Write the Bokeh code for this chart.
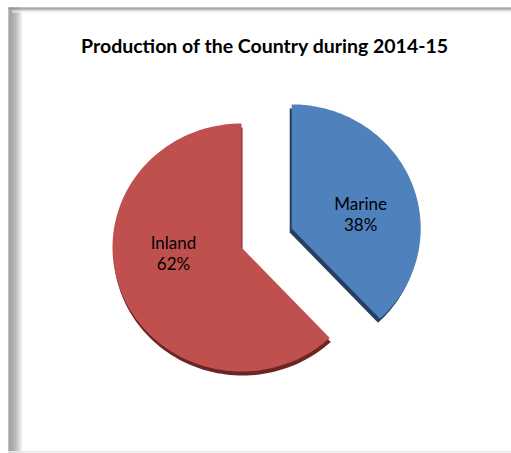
import numpy as np
from bokeh.plotting import figure
from bokeh.models import Range1d, ColumnDataSource
from bokeh.core.properties import value
from bokeh.embed import file_html
from bokeh.resources import INLINE

# ---- data ----
categories = ["Marine", "Inland"]
values = [38, 62]
colors = ["#4f81bd", "#c0504d"]
side_colors = ["#243f60", "#6b2523"]
title_text = "Production of the Country during 2014-15"

# ---- layout constants ----
W, H = 511, 453
cx, cy = 241, 206          # pie centre (data px)
rx, ry = 129, 124          # radii
explode = [54, 0]          # explode distance per slice
side_shift = [(-2, -4), (1, -4)]
label_r = 0.55
label_adj = [(3, -11), (-2, 20)]
fx0, ftop, fbot = 8, 446, 1  # frame edges

p = figure(width=W, height=H, output_backend="svg", toolbar_location=None,
           x_range=Range1d(0, W), y_range=Range1d(0, H), min_border=0)
p.axis.visible = False
p.grid.visible = False
p.outline_line_color = None
p.background_fill_color = "white"
p.border_fill_color = "white"

# ---- frame decoration: left gradient band and top band ----
n = 15
for i in range(n):
    t = i / (n - 1)
    g = int(0x86 + (0xff - 0x86) * (t ** 1.8))
    c = "#%02x%02x%02x" % (g, g, g)
    p.quad(left=fx0 + i, right=fx0 + i + 1, bottom=fbot, top=ftop,
           fill_color=c, line_color=None)
top_cols = ["#8a8a8a", "#909090", "#b4b4b4", "#dcdcdc", "#f2f2f2"]
for i, c in enumerate(top_cols):
    p.quad(left=fx0 + i, right=W, bottom=ftop - i - 1, top=ftop - i,
           fill_color=c, line_color=None)
p.quad(left=fx0, right=W, bottom=fbot, top=fbot + 1.5, fill_color="#e6e6e6", line_color=None)

# ---- pie ----
total = float(sum(values))
start = np.pi / 2
angles = []
a = start
for v in values:
    a1 = a - 2 * np.pi * v / total
    angles.append((a1, a))
    a = a1

def wedge_pts(x0, y0, a0, a1, k=120):
    th = np.linspace(a0, a1, k)
    xs = np.concatenate([[x0], x0 + rx * np.cos(th), [x0]])
    ys = np.concatenate([[y0], y0 + ry * np.sin(th), [y0]])
    return xs, ys

centres = []
for (a0, a1), d in zip(angles, explode):
    mid = (a0 + a1) / 2
    centres.append((cx + d * np.cos(mid), cy + d * np.sin(mid) * ry / rx))

# sides (depth)
for (a0, a1), (x0, y0), sc, (dx, dy) in zip(angles, centres, side_colors, side_shift):
    xs, ys = wedge_pts(x0 + dx, y0 + dy, a0, a1)
    p.patch(xs, ys, fill_color=sc, line_color=None)
# tops
for (a0, a1), (x0, y0), col in zip(angles, centres, colors):
    xs, ys = wedge_pts(x0, y0, a0, a1)
    p.patch(xs, ys, fill_color=col, line_color=None)

# labels
lx, ly, lt = [], [], []
for (a0, a1), (x0, y0), cat, v, (ax, ay) in zip(angles, centres, categories, values, label_adj):
    mid = (a0 + a1) / 2
    lx.append(x0 + label_r * rx * np.cos(mid) + ax)
    ly.append(y0 + label_r * ry * np.sin(mid) + ay)
    lt.append(f"{cat}\n{round(100 * v / total)}%")
src = ColumnDataSource(dict(x=lx, y=ly, t=lt))
p.text(x="x", y="y", text="t", source=src, text_align="center", text_baseline="middle",
       text_font=value("Lato"), text_font_size="17px", text_color="#000000",
       text_line_height=1.0)

# title
p.text(x=[264.5], y=[408], text=[title_text], text_align="center", text_baseline="middle",
       text_font=value("Lato"), text_font_style="bold", text_font_size="19.5px",
       text_color="#000000")

open("out.html", "w").write(file_html(p, INLINE))
